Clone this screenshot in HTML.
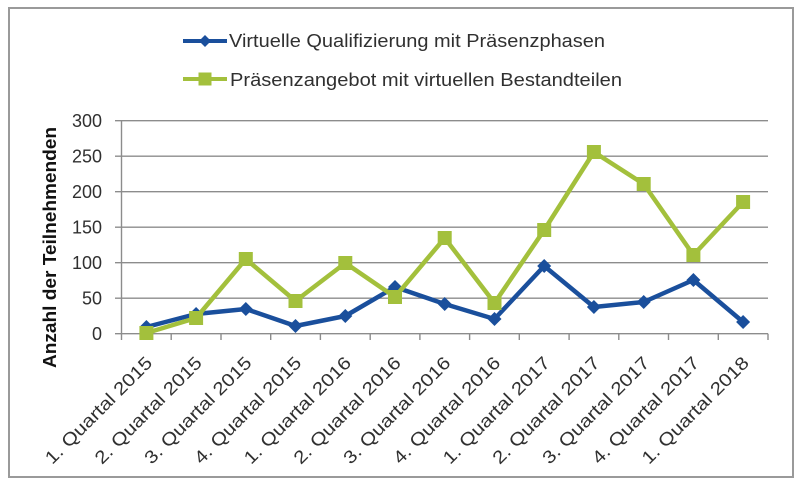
<!DOCTYPE html>
<html>
<head>
<meta charset="utf-8">
<style>
  html,body{margin:0;padding:0;background:#fff;}
  svg{display:block;}
  text{font-family:"Liberation Sans",sans-serif;fill:#303030;}
</style>
</head>
<body>
<svg width="800" height="484" viewBox="0 0 800 484" xmlns="http://www.w3.org/2000/svg">
  <rect x="0" y="0" width="800" height="484" fill="#fff"/>
  <rect x="9" y="8" width="784" height="469" fill="#fff" stroke="#9a9a9a" stroke-width="2"/>

  <!-- Legend -->
  <line x1="183" y1="41" x2="227" y2="41" stroke="#1a4f9c" stroke-width="4"/>
  <polygon points="205,35 211,41 205,47 199,41" fill="#1a4f9c"/>
  <text x="229" y="47" font-size="18.5" textLength="376" lengthAdjust="spacingAndGlyphs">Virtuelle Qualifizierung mit Präsenzphasen</text>
  <line x1="183" y1="79" x2="227" y2="79" stroke="#a3c03c" stroke-width="4"/>
  <rect x="198.5" y="72.5" width="13" height="13" fill="#a3c03c"/>
  <text x="230" y="86" font-size="18.5" textLength="392" lengthAdjust="spacingAndGlyphs">Präsenzangebot mit virtuellen Bestandteilen</text>

  <!-- Gridlines -->
  <g stroke="#8c8c8c" stroke-width="1.4">
    <line x1="115" y1="120.7" x2="768" y2="120.7"/>
    <line x1="115" y1="156.2" x2="768" y2="156.2"/>
    <line x1="115" y1="191.7" x2="768" y2="191.7"/>
    <line x1="115" y1="227.2" x2="768" y2="227.2"/>
    <line x1="115" y1="262.7" x2="768" y2="262.7"/>
    <line x1="115" y1="298.2" x2="768" y2="298.2"/>
    <line x1="115" y1="333.7" x2="768" y2="333.7"/>
    <line x1="121.5" y1="120.7" x2="121.5" y2="340"/>
    <!-- category ticks -->
    <line x1="171.2" y1="333.7" x2="171.2" y2="340"/>
    <line x1="221" y1="333.7" x2="221" y2="340"/>
    <line x1="270.7" y1="333.7" x2="270.7" y2="340"/>
    <line x1="320.4" y1="333.7" x2="320.4" y2="340"/>
    <line x1="370.2" y1="333.7" x2="370.2" y2="340"/>
    <line x1="419.9" y1="333.7" x2="419.9" y2="340"/>
    <line x1="469.6" y1="333.7" x2="469.6" y2="340"/>
    <line x1="519.3" y1="333.7" x2="519.3" y2="340"/>
    <line x1="569.1" y1="333.7" x2="569.1" y2="340"/>
    <line x1="618.8" y1="333.7" x2="618.8" y2="340"/>
    <line x1="668.5" y1="333.7" x2="668.5" y2="340"/>
    <line x1="718.3" y1="333.7" x2="718.3" y2="340"/>
    <line x1="768" y1="333.7" x2="768" y2="340"/>
  </g>

  <!-- Y tick labels -->
  <g font-size="18" text-anchor="end">
    <text x="102" y="127">300</text>
    <text x="102" y="162.5">250</text>
    <text x="102" y="198">200</text>
    <text x="102" y="233.5">150</text>
    <text x="102" y="269">100</text>
    <text x="102" y="304.5">50</text>
    <text x="102" y="340">0</text>
  </g>

  <!-- Y title -->
  <text transform="translate(56,247.5) rotate(-90)" text-anchor="middle" font-size="18" font-weight="bold" fill="#111" textLength="241" lengthAdjust="spacingAndGlyphs" style="fill:#111">Anzahl der Teilnehmenden</text>

  <!-- X labels -->
  <g font-size="18" text-anchor="end">
    <text transform="translate(153.4,364) rotate(-45)" textLength="143" lengthAdjust="spacingAndGlyphs">1. Quartal 2015</text>
    <text transform="translate(203.1,364) rotate(-45)" textLength="143" lengthAdjust="spacingAndGlyphs">2. Quartal 2015</text>
    <text transform="translate(252.8,364) rotate(-45)" textLength="143" lengthAdjust="spacingAndGlyphs">3. Quartal 2015</text>
    <text transform="translate(302.5,364) rotate(-45)" textLength="143" lengthAdjust="spacingAndGlyphs">4. Quartal 2015</text>
    <text transform="translate(352.3,364) rotate(-45)" textLength="143" lengthAdjust="spacingAndGlyphs">1. Quartal 2016</text>
    <text transform="translate(402,364) rotate(-45)" textLength="143" lengthAdjust="spacingAndGlyphs">2. Quartal 2016</text>
    <text transform="translate(451.7,364) rotate(-45)" textLength="143" lengthAdjust="spacingAndGlyphs">3. Quartal 2016</text>
    <text transform="translate(501.5,364) rotate(-45)" textLength="143" lengthAdjust="spacingAndGlyphs">4. Quartal 2016</text>
    <text transform="translate(551.2,364) rotate(-45)" textLength="143" lengthAdjust="spacingAndGlyphs">1. Quartal 2017</text>
    <text transform="translate(600.9,364) rotate(-45)" textLength="143" lengthAdjust="spacingAndGlyphs">2. Quartal 2017</text>
    <text transform="translate(650.7,364) rotate(-45)" textLength="143" lengthAdjust="spacingAndGlyphs">3. Quartal 2017</text>
    <text transform="translate(700.4,364) rotate(-45)" textLength="143" lengthAdjust="spacingAndGlyphs">4. Quartal 2017</text>
    <text transform="translate(750.1,364) rotate(-45)" textLength="143" lengthAdjust="spacingAndGlyphs">1. Quartal 2018</text>
  </g>

  <!-- Blue series -->
  <polyline fill="none" stroke="#1a4f9c" stroke-width="4.5" stroke-linejoin="round"
    points="146.4,327 196.1,314 245.8,309 295.5,326 345.3,316 395,287 444.7,304 494.5,319 544.2,266 593.9,307 643.7,302 693.4,280 743.1,322"/>
  <g fill="#1a4f9c">
    <polygon points="146.4,320 153.4,327 146.4,334 139.4,327"/>
    <polygon points="196.1,307 203.1,314 196.1,321 189.1,314"/>
    <polygon points="245.8,302 252.8,309 245.8,316 238.8,309"/>
    <polygon points="295.5,319 302.5,326 295.5,333 288.5,326"/>
    <polygon points="345.3,309 352.3,316 345.3,323 338.3,316"/>
    <polygon points="395,280 402,287 395,294 388,287"/>
    <polygon points="444.7,297 451.7,304 444.7,311 437.7,304"/>
    <polygon points="494.5,312 501.5,319 494.5,326 487.5,319"/>
    <polygon points="544.2,259 551.2,266 544.2,273 537.2,266"/>
    <polygon points="593.9,300 600.9,307 593.9,314 586.9,307"/>
    <polygon points="643.7,295 650.7,302 643.7,309 636.7,302"/>
    <polygon points="693.4,273 700.4,280 693.4,287 686.4,280"/>
    <polygon points="743.1,315 750.1,322 743.1,329 736.1,322"/>
  </g>

  <!-- Green series -->
  <polyline fill="none" stroke="#a3c03c" stroke-width="4.5" stroke-linejoin="round"
    points="146.4,333 196.1,318 245.8,259 295.5,301 345.3,263 395,297 444.7,238 494.5,303 544.2,230 593.9,152 643.7,184 693.4,255 743.1,202"/>
  <g fill="#a3c03c">
    <rect x="139.4" y="326" width="14" height="14"/>
    <rect x="189.1" y="311" width="14" height="14"/>
    <rect x="238.8" y="252" width="14" height="14"/>
    <rect x="288.5" y="294" width="14" height="14"/>
    <rect x="338.3" y="256" width="14" height="14"/>
    <rect x="388" y="290" width="14" height="14"/>
    <rect x="437.7" y="231" width="14" height="14"/>
    <rect x="487.5" y="296" width="14" height="14"/>
    <rect x="537.2" y="223" width="14" height="14"/>
    <rect x="586.9" y="145" width="14" height="14"/>
    <rect x="636.7" y="177" width="14" height="14"/>
    <rect x="686.4" y="248" width="14" height="14"/>
    <rect x="736.1" y="195" width="14" height="14"/>
  </g>
</svg>
</body>
</html>
